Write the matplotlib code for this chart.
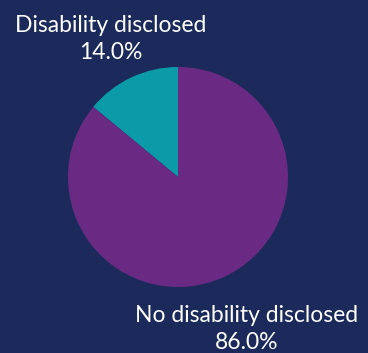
import matplotlib.pyplot as plt

labels = ["Disability disclosed", "No disability disclosed"]
shares = [14.0, 86.0]
colors = ["#0a9aa8", "#6a2a84"]
bg = "#1b2a5a"

W, H = 368, 353
fig = plt.figure(figsize=(W / 100, H / 100), dpi=100, facecolor=bg)
ax = fig.add_axes([0, 0, 1, 1])
ax.set_facecolor(bg)

ax.pie(shares, colors=colors, startangle=90, counterclock=True,
       center=(178, H - 177), radius=110, frame=True,
       wedgeprops=dict(linewidth=0))
ax.set_xlim(0, W)
ax.set_ylim(0, H)
ax.set_aspect("equal")
ax.axis("off")

# label positions (centre of each two-line block)
label_pos = [(111, H - 39), (247, H - 329)]
for lab, val, (x, y) in zip(labels, shares, label_pos):
    ax.text(x, y, f"{lab}\n{val:.1f}%", ha="center", va="center",
            color="white", fontsize=16.5, family="Lato", linespacing=1.4)

fig.savefig("out.png", dpi=100, facecolor=bg)
